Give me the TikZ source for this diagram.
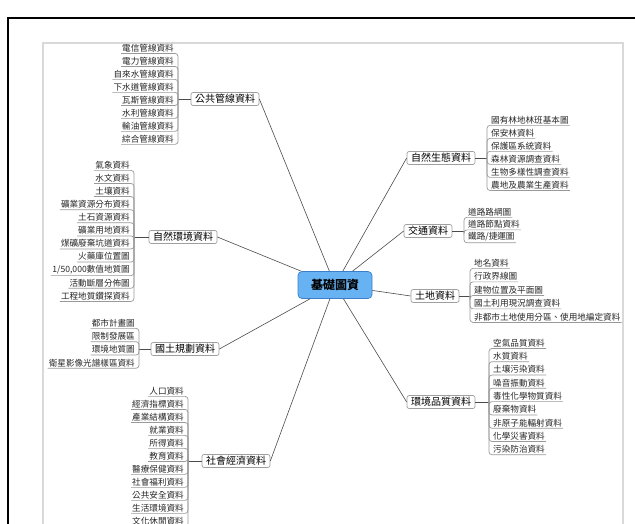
\documentclass[tikz,border=0pt]{standalone}
\usepackage{fontspec}
\setmainfont{Noto Sans CJK TC}
\begin{document}
\begin{tikzpicture}[x=1pt,y=-1pt,
  leaf/.style={font=\fontsize{8.6}{9}\selectfont, inner xsep=1pt, inner ysep=1.2pt, text=black!85},
  branch/.style={draw=gray!75, fill=white, rounded corners=2pt, line width=0.7pt,
    font=\fontsize{10}{11}\selectfont, inner xsep=4pt, inner ysep=1.8pt},
  hub/.style={draw=hubline, fill=hubfill, rounded corners=4pt, line width=0.7pt,
    minimum width=74pt, minimum height=27pt, font=\fontsize{12}{13}\selectfont\bfseries},
  uline/.style={draw=gray!80, line width=0.7pt, rounded corners=3pt},
  link/.style={draw=gray!60!black, line width=0.6pt}]
\definecolor{hubfill}{HTML}{66B2F2}
\definecolor{hubline}{HTML}{3A80C8}
\useasboundingbox (0,0) rectangle (635,524);
\fill[white] (0,0) rectangle (635,524);
% frames
\draw[line width=1.3pt] (8,540) -- (8,18) -- (650,18);
\draw[gray!30, line width=1.8pt] (43,540) -- (43,43) -- (623,43) -- (623,540);

% hub
\node[hub] (hub) at (335,285) {基礎圖資};

% branches
\node[branch] (gg) at (225,99) {公共管線資料};
\node[branch] (hj) at (183,237) {自然環境資料};
\node[branch] (gt) at (185,349) {國土規劃資料};
\node[branch] (sh) at (236,461) {社會經濟資料};
\node[branch] (st) at (441,158) {自然生態資料};
\node[branch] (jt) at (428,231) {交通資料};
\node[branch] (td) at (435,296) {土地資料};
\node[branch] (hq) at (441,402) {環境品質資料};

% hub links
\foreach \b in {gg,hj,gt,sh} \draw[link] (hub) -- (\b.east);
\foreach \b in {st,jt,td,hq} \draw[link] (hub) -- (\b.west);

% spine points
\coordinate (ggsp) at (178,99);
\coordinate (hjsp) at (134,237);
\coordinate (gtsp) at (139,349);
\coordinate (shsp) at (188,461);
\coordinate (stsp) at (487,158);
\coordinate (jtsp) at (464,231);
\coordinate (tdsp) at (470,296);
\coordinate (hqsp) at (489,402);
\foreach \b in {gg,hj,gt,sh} \draw[link] (\b.west) -- (\b sp);
\foreach \b in {st,jt,td,hq} \draw[link] (\b.east) -- (\b sp);

% left leaves
\foreach \t [count=\i] in {電信管線資料,電力管線資料,自來水管線資料,下水道管線資料,瓦斯管線資料,水利管線資料,輸油管線資料,綜合管線資料}{
  \node[leaf, anchor=east] (gg\i) at (175,48+13*\i-13) {\t};
  \draw[uline] (ggsp) |- (gg\i.south west);
}
\foreach \t [count=\i] in {氣象資料,水文資料,土壤資料,礦業資源分布資料,土石資源資料,礦業用地資料,煤礦廢棄坑道資料,火藥庫位置圖,{1/50,000數值地質圖},活動斷層分佈圖,工程地質鑽探資料}{
  \node[leaf, anchor=east] (hj\i) at (131,165+13.1*\i-13.1) {\t};
  \draw[uline] (hjsp) |- (hj\i.south west);
}
\foreach \t [count=\i] in {都市計畫圖,限制發展區,環境地質圖,衛星影像光譜樣區資料}{
  \node[leaf, anchor=east] (gt\i) at (136,323+13.3*\i-13.3) {\t};
  \draw[uline] (gtsp) |- (gt\i.south west);
}
\foreach \t [count=\i] in {人口資料,經濟指標資料,產業結構資料,就業資料,所得資料,教育資料,醫療保健資料,社會福利資料,公共安全資料,生活環境資料,文化休閒資料}{
  \node[leaf, anchor=east] (sh\i) at (185,391+13*\i-13) {\t};
  \draw[uline] (shsp) |- (sh\i.south west);
}

% right leaves
\foreach \t [count=\i] in {國有林地林班基本圖,保安林資料,保護區系統資料,森林資源調查資料,生物多樣性調查資料,農地及農業生產資料}{
  \node[leaf, anchor=west] (st\i) at (490,120+13*\i-13) {\t};
  \draw[uline] (stsp) |- (st\i.south east);
}
\foreach \t [count=\i] in {道路路網圖,道路節點資料,鐵路/捷運圖}{
  \node[leaf, anchor=west] (jt\i) at (467,212+12.5*\i-12.5) {\t};
  \draw[uline] (jtsp) |- (jt\i.south east);
}
\foreach \t [count=\i] in {地名資料,行政界線圖,建物位置及平面圖,國土利用現況調查資料,非都市土地使用分區、使用地編定資料}{
  \node[leaf, anchor=west] (td\i) at (473,263+13.5*\i-13.5) {\t};
  \draw[uline] (tdsp) |- (td\i.south east);
}
\foreach \t [count=\i] in {空氣品質資料,水質資料,土壤污染資料,噪音振動資料,毒性化學物質資料,廢棄物資料,非原子能輻射資料,化學災害資料,污染防治資料}{
  \node[leaf, anchor=west] (hq\i) at (492,343+13.3*\i-13.3) {\t};
  \draw[uline] (hqsp) |- (hq\i.south east);
}
\end{tikzpicture}
\end{document}
